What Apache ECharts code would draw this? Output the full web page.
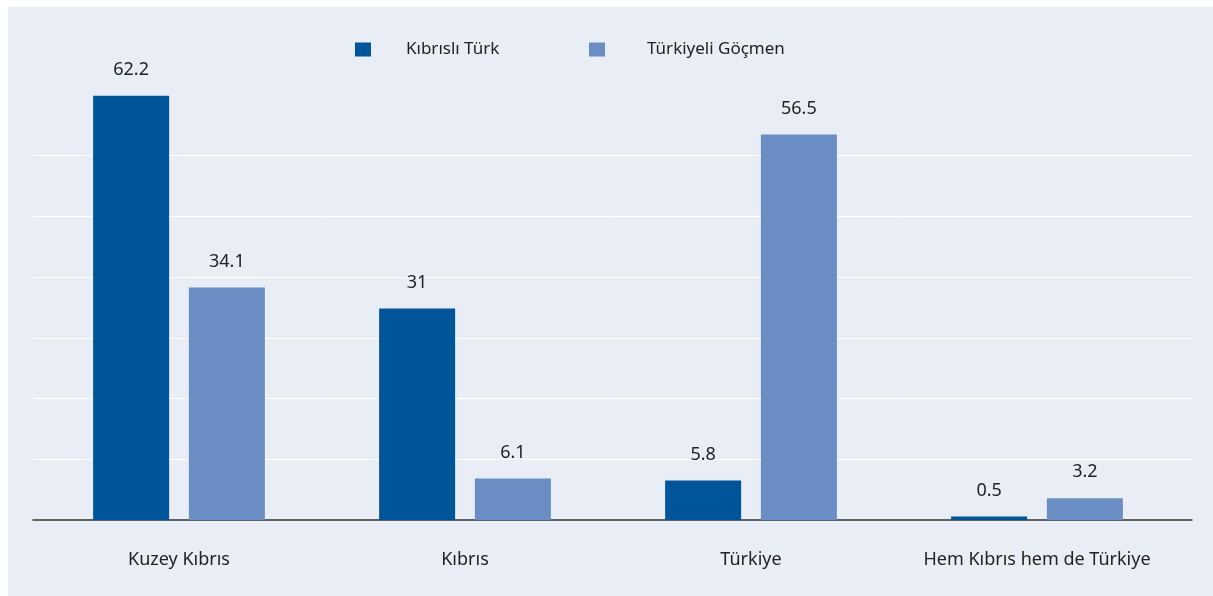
<!DOCTYPE html>
<html>
<head>
<meta charset="utf-8">
<script src="https://cdn.jsdelivr.net/npm/echarts@6/dist/echarts.min.js"></script>
<style>
  html, body { margin: 0; padding: 0; background: #fff; }
  #chart { position: absolute; left: 8px; top: 7px; width: 1205px; height: 589px; background: #e9edf6; }
</style>
</head>
<body>
<div id="chart"></div>
<script>
// data
const categories = ['Kuzey Kıbrıs', 'Kıbrıs', 'Türkiye', 'Hem Kıbrıs hem de Türkiye'];
const seriesNames = ['Kıbrıslı Türk', 'Türkiyeli Göçmen'];
const kibrisliTurk = [62.2, 31, 5.8, 0.5];
const turkiyeliGocmen = [34.1, 6.1, 56.5, 3.2];

const yMax = 62.3;
const yStep = yMax / 7;

const dark = '#00559a';
const light = '#6a8ec4';
const font = '"Noto Sans", sans-serif';

const chart = echarts.init(document.getElementById('chart'));

const legendText = (pad) => ({ color: '#222', fontSize: 17, fontFamily: font, padding: [0, 0, 0, pad] });

const option = {
  animation: false,
  legend: [
    { data: [seriesNames[0]], left: 342, top: 29, itemWidth: 16, itemHeight: 14, icon: 'rect', textStyle: legendText(30) },
    { data: [seriesNames[1]], left: 576, top: 29, itemWidth: 16, itemHeight: 14, icon: 'rect', textStyle: legendText(37) }
  ],
  grid: [
    // background grid: gridlines and baseline
    { left: 25, right: 21, top: 88, bottom: 76 },
    // bars
    { left: 28, right: 33, top: 88, bottom: 76 }
  ],
  xAxis: [
    { type: 'category', gridIndex: 0, data: categories, axisLine: { lineStyle: { color: '#333', width: 1.5 } },
      axisTick: { show: false }, axisLabel: { show: false } },
    { type: 'category', gridIndex: 1, data: categories, axisLine: { show: false }, axisTick: { show: false },
      axisLabel: { interval: 0, color: '#222', fontSize: 18, fontFamily: font, margin: 31 } }
  ],
  yAxis: [
    { type: 'value', gridIndex: 0, min: 0, max: yMax, interval: yStep,
      axisLabel: { show: false }, axisLine: { show: false }, axisTick: { show: false },
      splitLine: { show: true, showMinLine: false, showMaxLine: false, lineStyle: { color: '#ffffff', width: 1 } } },
    { type: 'value', gridIndex: 1, min: 0, max: yMax, interval: yStep, show: false, splitLine: { show: false } }
  ],
  series: [
    { name: seriesNames[0], type: 'bar', xAxisIndex: 1, yAxisIndex: 1, data: kibrisliTurk, barWidth: 76, barGap: '26%',
      itemStyle: { color: dark },
      label: { show: true, position: 'top', distance: 17, color: '#222', fontSize: 18, fontFamily: font } },
    { name: seriesNames[1], type: 'bar', xAxisIndex: 1, yAxisIndex: 1, data: turkiyeliGocmen, barWidth: 76, barGap: '26%',
      itemStyle: { color: light },
      label: { show: true, position: 'top', distance: 17, color: '#222', fontSize: 18, fontFamily: font } }
  ]
};

chart.setOption(option);
</script>
</body>
</html>
